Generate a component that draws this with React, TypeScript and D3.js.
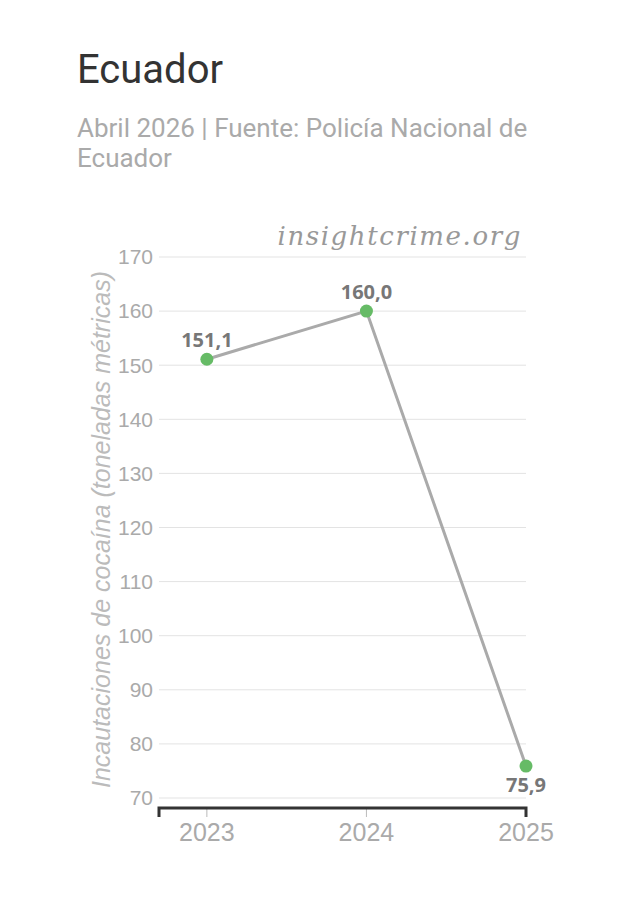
import React, { useEffect, useRef } from 'react';
import * as d3 from 'd3';

const years = [2023, 2024, 2025];
const seizures = [151.1, 160.0, 75.9];
const yTicks = [70, 80, 90, 100, 110, 120, 130, 140, 150, 160, 170];

const title = 'Ecuador';
const subtitleLines = ['Abril 2026 | Fuente: Policía Nacional de', 'Ecuador'];
const yTitle = 'Incautaciones de cocaína (toneladas métricas)';
const watermark = 'insightcrime.org';

const App: React.FC = () => {
  const svgRef = useRef<SVGSVGElement>(null);

  useEffect(() => {
    if (!svgRef.current) return;
    const svg = d3.select(svgRef.current);
    svg.selectAll('*').remove();

    const width = 620;
    const height = 900;
    const margin = { top: 257, right: 94, bottom: 92, left: 159 };

    const x = d3
      .scaleLinear()
      .domain([2022.7, 2025])
      .range([margin.left, width - margin.right]);

    const y = d3
      .scaleLinear()
      .domain([70, 170])
      .range([height - margin.bottom - 10, margin.top]);

    // title + subtitle
    svg
      .append('text')
      .attr('x', 77)
      .attr('y', 83)
      .attr('font-family', 'Roboto, sans-serif')
      .attr('font-size', 40)
      .attr('fill', '#333')
      .text(title);

    svg
      .selectAll('.subtitle')
      .data(subtitleLines)
      .enter()
      .append('text')
      .attr('class', 'subtitle')
      .attr('x', 77)
      .attr('y', (_, i) => 137 + i * 30)
      .attr('font-family', 'Roboto, sans-serif')
      .attr('font-size', 26)
      .attr('fill', '#aaa')
      .text((d) => d);

    // gridlines + y labels
    const grid = svg.append('g');
    grid
      .selectAll('line')
      .data(yTicks)
      .enter()
      .append('line')
      .attr('x1', margin.left)
      .attr('x2', x(2025))
      .attr('y1', (d) => y(d))
      .attr('y2', (d) => y(d))
      .attr('stroke', '#e3e3e3')
      .attr('stroke-width', 1);

    grid
      .selectAll('text')
      .data(yTicks)
      .enter()
      .append('text')
      .attr('x', margin.left - 6)
      .attr('y', (d) => y(d))
      .attr('dy', '0.35em')
      .attr('text-anchor', 'end')
      .attr('font-family', '"Liberation Sans", Arial, sans-serif')
      .attr('font-size', 21)
      .attr('fill', '#aaa')
      .text((d) => d);

    // watermark
    svg
      .append('text')
      .attr('x', 522)
      .attr('y', 245)
      .attr('text-anchor', 'end')
      .attr('font-family', '"DejaVu Serif", serif')
      .attr('font-style', 'italic')
      .attr('font-size', 26)
      .attr('letter-spacing', 1.6)
      .attr('fill', '#999')
      .text(watermark);

    // y title
    svg
      .append('text')
      .attr('transform', `translate(110,${(y(70) + y(170)) / 2 + 2}) rotate(-90)`)
      .attr('text-anchor', 'middle')
      .attr('font-family', '"Liberation Sans", Arial, sans-serif')
      .attr('font-style', 'italic')
      .attr('font-size', 25)
      .attr('fill', '#bbb')
      .text(yTitle);

    // x axis
    const axisY = y(70) + 10;
    const xAxis = svg.append('g').attr('transform', `translate(0,${axisY})`);
    xAxis
      .selectAll('.tick')
      .data(years.slice(0, -1))
      .enter()
      .append('line')
      .attr('x1', (d) => x(d))
      .attr('x2', (d) => x(d))
      .attr('y1', 0)
      .attr('y2', 9)
      .attr('stroke', '#bbb')
      .attr('stroke-width', 1);
    xAxis
      .append('path')
      .attr('d', `M${x(2022.7)},9V0H${x(2025)}V9`)
      .attr('fill', 'none')
      .attr('stroke', '#333')
      .attr('stroke-width', 3);
    xAxis
      .selectAll('text')
      .data(years)
      .enter()
      .append('text')
      .attr('x', (d) => x(d))
      .attr('y', 33)
      .attr('text-anchor', 'middle')
      .attr('font-family', '"Liberation Sans", Arial, sans-serif')
      .attr('font-size', 25)
      .attr('fill', '#aaa')
      .text((d) => d);

    const points = years.map((yr, i) => ({ yr, v: seizures[i] }));

    const line = d3
      .line<{ yr: number; v: number }>()
      .x((d) => x(d.yr))
      .y((d) => y(d.v));

    svg
      .append('path')
      .datum(points)
      .attr('d', line)
      .attr('fill', 'none')
      .attr('stroke', '#aaa')
      .attr('stroke-width', 3);

    svg
      .selectAll('circle')
      .data(points)
      .enter()
      .append('circle')
      .attr('cx', (d) => x(d.yr))
      .attr('cy', (d) => y(d.v))
      .attr('r', 6.5)
      .attr('fill', '#66bb66');

    const fmt = (v: number) => v.toFixed(1).replace('.', ',');
    svg
      .selectAll('.value-label')
      .data(points)
      .enter()
      .append('text')
      .attr('class', 'value-label')
      .attr('x', (d) => x(d.yr))
      .attr('y', (d, i) => (i === points.length - 1 ? y(d.v) + 26 : y(d.v) - 12))
      .attr('text-anchor', 'middle')
      .attr('font-family', '"Open Sans", sans-serif')
      .attr('font-weight', 'bold')
      .attr('font-size', 20)
      .attr('fill', '#777')
      .text((d) => fmt(d.v));
  }, []);

  return <svg ref={svgRef} width={620} height={900} style={{ display: 'block', margin: -8 }} />;
};

export default App;
